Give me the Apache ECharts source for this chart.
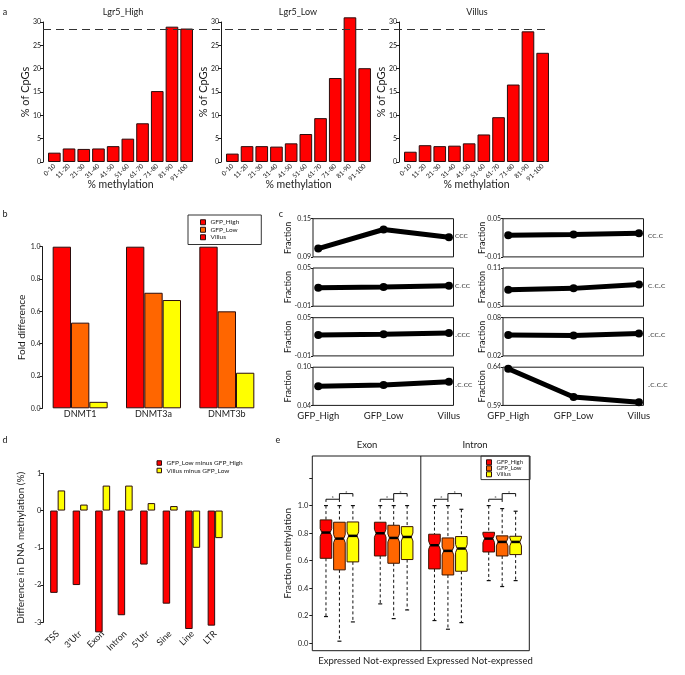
<!DOCTYPE html>
<html><head><meta charset="utf-8">
<script src="https://cdn.jsdelivr.net/npm/echarts@6/dist/echarts.min.js"></script>
<style>html,body{margin:0;padding:0;background:#fff}#c{width:685px;height:675px}</style>
</head><body><div id="c"></div>
<script>
// ---------- Panel a : methylation histograms ----------
const methBins = ['0-10','11-20','21-30','31-40','41-50','51-60','61-70','71-80','81-90','91-100'];
const lgr5High = [2.0, 2.9, 2.8, 2.9, 3.4, 5.0, 8.3, 15.2, 29.0, 28.6];
const lgr5Low = [1.8, 3.4, 3.4, 3.3, 4.0, 6.0, 9.4, 18.0, 31.0, 20.1];
const villusMeth = [2.2, 3.6, 3.4, 3.5, 4.0, 5.9, 9.6, 16.6, 28.0, 23.4];
const histTitles = ['Lgr5_High', 'Lgr5_Low', 'Villus'];
const refLevel = 28.4;

// ---------- Panel b : DNMT expression ----------
const dnmtGenes = ['DNMT1', 'DNMT3a', 'DNMT3b'];
const stages = ['GFP_High', 'GFP_Low', 'Villus'];
const foldHigh = [1.0, 1.0, 1.0];
const foldLow = [0.53, 0.715, 0.60];
const foldVillus = [0.04, 0.67, 0.22];

// ---------- Panel c : CpG context fractions ----------
const ctxLabels = ['CCC', 'C\u208BCC', '\u208BCCC', '\u208BC\u208BCC', 'CC\u208BC', 'C\u208BC\u208BC', '\u208BCC\u208BC', '\u208BC\u208BC\u208BC'];
const ctxCCC = [0.103, 0.133, 0.121];
const ctxCmCC = [0.019, 0.020, 0.022];
const ctxmCCC = [0.023, 0.024, 0.026];
const ctxmCmCC = [0.070, 0.072, 0.077];
const ctxCCmC = [0.024, 0.025, 0.027];
const ctxCmCmC = [0.076, 0.078, 0.084];
const ctxmCCmC = [0.053, 0.052, 0.055];
const ctxmCmCmC = [0.638, 0.601, 0.594];
const ctxRanges = [[0.09, 0.15], [-0.01, 0.05], [-0.01, 0.05], [0.04, 0.10], [-0.01, 0.05], [0.05, 0.11], [0.02, 0.08], [0.59, 0.64]];

// ---------- Panel d : differences by region ----------
const regions = ['TSS', "3'Utr", 'Exon', 'Intron', "5'Utr", 'Sine', 'Line', 'LTR'];
const lowMinusHigh = [-2.21, -2.0, -3.27, -2.81, -1.45, -2.5, -3.18, -3.09];
const villusMinusLow = [0.54, 0.16, 0.67, 0.67, 0.2, 0.12, -1.0, -0.74];
const diffNames = ['GFP_Low minus GFP_High', 'Villus minus GFP_Low'];

// ---------- Panel e : boxplots [min, Q1, median, Q3, max] ----------
const featureTitles = ['Exon', 'Intron'];
const geneGroups = ['Expressed', 'Not-expressed', 'Expressed', 'Not-expressed'];
const boxHigh = [[0.194, 0.617, 0.804, 0.896, 1.0], [0.286, 0.634, 0.799, 0.879, 1.0], [0.165, 0.54, 0.712, 0.792, 1.0], [0.455, 0.663, 0.76, 0.806, 1.0]];
const boxLow = [[0.015, 0.533, 0.76, 0.879, 1.0], [0.179, 0.581, 0.765, 0.857, 1.0], [0.102, 0.496, 0.671, 0.765, 1.0], [0.412, 0.634, 0.736, 0.78, 0.978]];
const boxVillus = [[0.155, 0.591, 0.78, 0.881, 1.0], [0.242, 0.608, 0.772, 0.847, 1.0], [0.15, 0.523, 0.688, 0.775, 0.973], [0.455, 0.644, 0.736, 0.777, 0.959]];
const fracTicks = [0, 0.2, 0.4, 0.6, 0.8, 1.0, 1.2];
const fracLabels = [0, 0.2, 0.4, 0.6, 0.8, 1.0];

// ================= rendering =================
const FONT = 'Lato, "DejaVu Sans", sans-serif';
const INK = '#1a1a1a';
const RED = '#FF0000', ORANGE = '#FF6600', YELLOW = '#FFFF00';
const EDGE = '#2b0d0d';
const stageColors = [RED, ORANGE, YELLOW];

const chart = echarts.init(document.getElementById('c'));
const grid = [], xAxis = [], yAxis = [], series = [], graphic = [];
function addGrid(g) { grid.push(Object.assign({ outerBoundsMode: 'none', containLabel: false }, g)); return grid.length - 1; }
function txt(t, x, y, size, opts) {
  graphic.push(Object.assign({ type: 'text', x: x, y: y, silent: true,
    style: { text: t, font: size + 'px ' + FONT, fill: INK, align: 'center', verticalAlign: 'middle' } }, opts || {}));
}
const axisCommon = { nameMoveOverlap: false, splitLine: { show: false } };

// ---- panel a
const histData = [lgr5High, lgr5Low, villusMeth];
const histAxisX = [43, 221, 399];
const histTitleX = [123, 298, 477];
histData.forEach((vals, i) => {
  const gi = addGrid({ left: histAxisX[i] + 4, top: 22, width: 147, height: 140 });
  xAxis.push(Object.assign({}, axisCommon, { gridIndex: gi, type: 'category', data: methBins,
    axisLine: { show: false }, axisTick: { show: false },
    axisLabel: { interval: 0, rotate: 45, fontSize: 6.5, margin: 3, color: INK },
    name: '% methylation', nameLocation: 'middle', nameGap: 17, nameTextStyle: { fontSize: 10.5, color: INK } }));
  yAxis.push(Object.assign({}, axisCommon, { gridIndex: gi, type: 'value', min: 0, max: 30, interval: 5, offset: 4,
    axisLine: { show: true, lineStyle: { color: INK, width: 1 } },
    axisTick: { show: true, length: 3, lineStyle: { color: INK } },
    axisLabel: { fontSize: 7, margin: 2, color: INK },
    name: '% of CpGs', nameLocation: 'middle', nameRotate: 90, nameGap: 12, nameTextStyle: { fontSize: 11, color: INK } }));
  series.push({ type: 'bar', name: histTitles[i], xAxisIndex: xAxis.length - 1, yAxisIndex: yAxis.length - 1,
    data: vals, barCategoryGap: '14%', clip: false, silent: true,
    itemStyle: { color: RED, borderColor: EDGE, borderWidth: 1 } });
  txt(histTitles[i], histTitleX[i], 12, 9);
});
// dashed reference line across the three histograms
const gRef = addGrid({ left: 43, top: 22, width: 505, height: 140 });
xAxis.push({ gridIndex: gRef, type: 'value', min: 0, max: 1, show: false });
yAxis.push({ gridIndex: gRef, type: 'value', min: 0, max: 30, show: false });
series.push({ type: 'line', xAxisIndex: xAxis.length - 1, yAxisIndex: yAxis.length - 1, data: [], silent: true,
  markLine: { symbol: 'none', silent: true, label: { show: false },
    lineStyle: { type: [8, 5], color: '#333', width: 1 }, data: [{ yAxis: refLevel }] } });

// ---- panel b
const gB = addGrid({ left: 43.5, top: 246.7, width: 220, height: 161.6 });
xAxis.push(Object.assign({}, axisCommon, { gridIndex: gB, type: 'category', data: dnmtGenes,
  axisLine: { show: false }, axisTick: { show: false }, axisLabel: { fontSize: 9, margin: 1, color: INK } }));
yAxis.push(Object.assign({}, axisCommon, { gridIndex: gB, type: 'value', min: 0, max: 1, interval: 0.2, offset: 1,
  axisLine: { show: true, lineStyle: { color: INK } }, axisTick: { show: true, length: 3, lineStyle: { color: INK } },
  axisLabel: { fontSize: 7, margin: 2, color: INK, formatter: v => v.toFixed(1) },
  name: 'Fold difference', nameLocation: 'middle', nameRotate: 90, nameGap: 16, nameTextStyle: { fontSize: 10, color: INK } }));
[foldHigh, foldLow, foldVillus].forEach((vals, s) => {
  series.push({ type: 'bar', name: stages[s], xAxisIndex: xAxis.length - 1, yAxisIndex: yAxis.length - 1,
    data: vals, barGap: '0%', barCategoryGap: '25%', silent: true,
    itemStyle: { color: stageColors[s], borderColor: EDGE, borderWidth: 1 } });
});

// ---- panel c
const ctxValues = [ctxCCC, ctxCmCC, ctxmCCC, ctxmCmCC, ctxCCmC, ctxCmCmC, ctxmCCmC, ctxmCmCmC];
const cLeft = [313, 503], cTop = [218.7, 268, 317.7, 367.2], cW = 140.5, cH = 38.2;
const cNameGap = [20, 16], cLabelX = [455, 648];
ctxValues.forEach((vals, k) => {
  const col = k >> 2, row = k % 4;
  const gi = addGrid({ left: cLeft[col], top: cTop[row], width: cW, height: cH, show: true, borderColor: INK, borderWidth: 1 });
  const r = ctxRanges[k];
  xAxis.push(Object.assign({}, axisCommon, { gridIndex: gi, type: 'value', min: 0.92, max: 3.07,
    axisLine: { show: false }, axisTick: { show: false },
    axisLabel: { show: row === 3, customValues: [1, 2, 3], formatter: v => stages[Math.round(v) - 1], fontSize: 9.5, margin: 6, color: INK } }));
  yAxis.push(Object.assign({}, axisCommon, { gridIndex: gi, type: 'value', min: r[0], max: r[1],
    axisLine: { show: false },
    axisTick: { show: true, customValues: [r[0], r[1]], length: 2, lineStyle: { color: INK } },
    axisLabel: { customValues: [r[0], r[1]], formatter: v => v.toFixed(2), fontSize: 7, margin: 2, color: INK },
    name: 'Fraction', nameLocation: 'middle', nameRotate: 90, nameGap: cNameGap[col], nameTextStyle: { fontSize: 9, color: INK } }));
  series.push({ type: 'line', xAxisIndex: xAxis.length - 1, yAxisIndex: yAxis.length - 1, silent: true,
    data: vals.map((v, i) => [i + 1, v]), symbol: 'circle', symbolSize: 8,
    lineStyle: { color: '#000', width: 5 }, itemStyle: { color: '#000' } });
  graphic.push({ type: 'text', x: cLabelX[col], y: cTop[row] + cH / 2 - 1.5, silent: true,
    style: { text: ctxLabels[k], font: '6.5px ' + FONT, fill: INK, align: 'left', verticalAlign: 'middle' } });
});

// ---- panel d
const gD = addGrid({ left: 46.4, top: 473.3, width: 180, height: 149 });
xAxis.push(Object.assign({}, axisCommon, { gridIndex: gD, type: 'category', data: regions,
  axisLine: { show: false, onZero: false }, axisTick: { show: false },
  axisLabel: { interval: 0, rotate: 45, fontSize: 9, margin: 10, color: INK } }));
yAxis.push(Object.assign({}, axisCommon, { gridIndex: gD, type: 'value', min: -3, max: 1, interval: 1, offset: 3,
  axisLine: { show: true, lineStyle: { color: INK } }, axisTick: { show: true, length: 3, lineStyle: { color: INK } },
  axisLabel: { fontSize: 7.5, margin: 2, color: INK },
  name: 'Difference in DNA methylation (%)', nameLocation: 'middle', nameRotate: 90, nameGap: 18, nameTextStyle: { fontSize: 10, color: INK } }));
[lowMinusHigh, villusMinusLow].forEach((vals, s) => {
  series.push({ type: 'bar', name: diffNames[s], xAxisIndex: xAxis.length - 1, yAxisIndex: yAxis.length - 1,
    data: vals, barGap: '0%', barCategoryGap: '33.3%', clip: false, silent: true,
    itemStyle: { color: s === 0 ? RED : YELLOW, borderColor: EDGE, borderWidth: 1 } });
});

// ---- panel e
const gE = addGrid({ left: 312.3, top: 456, width: 217, height: 194.7, show: true, borderColor: INK, borderWidth: 1 });
xAxis.push(Object.assign({}, axisCommon, { gridIndex: gE, type: 'category',
  data: geneGroups.map((g, i) => featureTitles[i >> 1] + ':' + g),
  axisLine: { show: false }, axisTick: { show: false },
  axisLabel: { interval: 0, fontSize: 9.5, margin: 5, color: INK, formatter: (v, i) => geneGroups[i] } }));
yAxis.push(Object.assign({}, axisCommon, { gridIndex: gE, type: 'value', min: -0.054, max: 1.36,
  axisLine: { show: false },
  axisTick: { show: true, customValues: fracTicks, length: 3, lineStyle: { color: INK } },
  axisLabel: { customValues: fracLabels, formatter: v => v.toFixed(1), fontSize: 7.5, margin: 4, color: INK },
  name: 'Fraction methylation', nameLocation: 'middle', nameRotate: 90, nameGap: 20, nameTextStyle: { fontSize: 10, color: INK } }));
const eX = xAxis.length - 1, eY = yAxis.length - 1;
const OFF = 0.248, BW = 0.214;
function renderBox(api, s, color) {
  const cat = api.value(0);
  const band = api.size([1, 0])[0];
  const cx = api.coord([cat, 0])[0] + (s - 1) * band * OFF;
  const hw = band * BW / 2;
  const y = k => api.coord([cat, api.value(k)])[1];
  const yMin = y(1), yQ1 = y(2), yMed = y(3), yQ3 = y(4), yMax = y(5);
  const nh = Math.min(4, (yQ1 - yMed) * 0.8, (yMed - yQ3) * 0.8), ni = 1.6, cap = 2;
  const dash = { stroke: '#111', lineWidth: 1, lineDash: [3, 2.5] };
  return { type: 'group', children: [
    { type: 'line', shape: { x1: cx, y1: yMax, x2: cx, y2: yQ3 }, style: dash },
    { type: 'line', shape: { x1: cx, y1: yQ1, x2: cx, y2: yMin }, style: dash },
    { type: 'line', shape: { x1: cx - cap, y1: yMax, x2: cx + cap, y2: yMax }, style: { stroke: '#111', lineWidth: 1.2 } },
    { type: 'line', shape: { x1: cx - cap, y1: yMin, x2: cx + cap, y2: yMin }, style: { stroke: '#111', lineWidth: 1.2 } },
    { type: 'polygon', shape: { points: [[cx - hw, yQ3], [cx + hw, yQ3], [cx + hw, yMed - nh], [cx + hw - ni, yMed], [cx + hw, yMed + nh], [cx + hw, yQ1],
      [cx - hw, yQ1], [cx - hw, yMed + nh], [cx - hw + ni, yMed], [cx - hw, yMed - nh]] },
      style: { fill: color, stroke: '#3a1500', lineWidth: 1 } },
    { type: 'line', shape: { x1: cx - hw + ni, y1: yMed, x2: cx + hw - ni, y2: yMed }, style: { stroke: '#000', lineWidth: 2.5 } }
  ] };
}
[boxHigh, boxLow, boxVillus].forEach((set, s) => {
  series.push({ type: 'custom', name: stages[s], xAxisIndex: eX, yAxisIndex: eY, silent: true,
    itemStyle: { color: stageColors[s], borderColor: EDGE, borderWidth: 1 },
    data: set.map((b, i) => [i].concat(b)), encode: { x: 0, y: [1, 2, 3, 4, 5] },
    renderItem: (params, api) => renderBox(api, s, stageColors[s]) });
});
// significance brackets
series.push({ type: 'custom', xAxisIndex: eX, yAxisIndex: eY, silent: true,
  data: geneGroups.map((g, i) => [i, 1.05]), encode: { x: 0, y: 1 },
  renderItem: (params, api) => {
    const cat = api.value(0);
    const band = api.size([1, 0])[0];
    const c0 = api.coord([cat, 0])[0];
    const xs = [-1, 0, 1].map(k => c0 + k * band * OFF);
    const yLo = api.coord([cat, 1.046])[1], yHi = api.coord([cat, 1.087])[1];
    const st = { stroke: '#111', lineWidth: 1, fill: null };
    const star = (x, yy) => ({ type: 'text', x: x, y: yy, style: { text: '*', font: '6px ' + FONT, fill: INK, align: 'center', verticalAlign: 'middle' } });
    return { type: 'group', children: [
      { type: 'polyline', shape: { points: [[xs[0], yLo + 2.7], [xs[0], yLo], [xs[1], yLo], [xs[1], yLo + 2.7]] }, style: st },
      { type: 'polyline', shape: { points: [[xs[1], yLo], [xs[1], yHi], [xs[2], yHi], [xs[2], yHi + 3]] }, style: st },
      star((xs[0] + xs[1]) / 2, yLo - 1),
      star((xs[1] + xs[2]) / 2, yHi - 1)
    ] };
  } });
// divider between Exon and Intron halves
series.push({ type: 'custom', xAxisIndex: eX, yAxisIndex: eY, silent: true,
  data: [[0, 0]], encode: { x: 0, y: 1 },
  renderItem: (params, api) => {
    const x = (api.coord([1, 0])[0] + api.coord([2, 0])[0]) / 2;
    const cs = params.coordSys;
    return { type: 'line', shape: { x1: x, y1: cs.y, x2: x, y2: cs.y + cs.height }, style: { stroke: INK, lineWidth: 1 } };
  } });
txt(featureTitles[0], 367, 445, 9.5);
txt(featureTitles[1], 475, 445, 9.5);

// panel letters
txt('a', 5, 12, 9); txt('b', 5, 214, 9); txt('c', 281, 214, 9); txt('d', 5, 440, 9); txt('e', 278, 440, 9);

const legendText = (size, lh) => ({ fontSize: size, lineHeight: lh, color: INK, fontFamily: FONT });
const option = {
  animation: false,
  textStyle: { fontFamily: FONT, color: INK },
  grid: grid, xAxis: xAxis, yAxis: yAxis, series: series, graphic: graphic,
  legend: [
    { orient: 'vertical', left: 188, top: 215, data: stages, icon: 'rect', itemWidth: 5, itemHeight: 5, itemGap: 0.5,
      padding: [3.75, 22, 3.75, 12], borderColor: '#333', borderWidth: 1, selectedMode: false, textStyle: legendText(6.5, 6.5),
      itemStyle: { borderColor: EDGE, borderWidth: 1 } },
    { orient: 'vertical', left: 156.5, top: 459.5, data: diffNames, icon: 'rect', itemWidth: 4.5, itemHeight: 4.5, itemGap: 0.5,
      padding: 0, selectedMode: false, textStyle: legendText(6.5, 5.5), itemStyle: { borderColor: EDGE, borderWidth: 1 } },
    { orient: 'vertical', left: 481, top: 456, data: stages.map((n, s) => ({ name: n, itemStyle: { color: stageColors[s], borderColor: EDGE, borderWidth: 1 } })),
      icon: 'rect', itemWidth: 5, itemHeight: 5, itemGap: 0,
      padding: [3.3, 7, 2.3, 5], borderColor: '#333', borderWidth: 1, selectedMode: false, textStyle: legendText(6, 5.9) }
  ]
};
chart.setOption(option);
</script>
</body></html>
